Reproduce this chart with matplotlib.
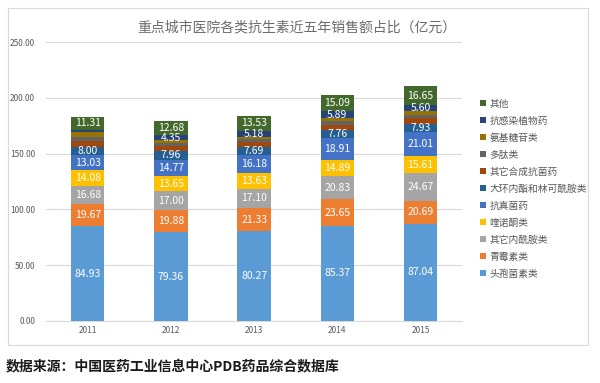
import matplotlib.pyplot as plt
from matplotlib.patches import Rectangle
import numpy as np

plt.rcParams['font.family'] = ['Noto Sans CJK SC', 'DejaVu Sans']

years = ['2011', '2012', '2013', '2014', '2015']

# bottom to top
series_names = ['头孢菌素类', '青霉素类', '其它内酰胺类', '喹诺酮类', '抗真菌药',
                '大环内酯和林可酰胺类', '其它合成抗菌药', '多肽类', '氨基糖苷类',
                '抗感染植物药', '其他']

toubao = [84.93, 79.36, 80.27, 85.37, 87.04]
qingmei = [19.67, 19.88, 21.33, 23.65, 20.69]
neixian = [16.68, 17.00, 17.10, 20.83, 24.67]
kuinuo = [14.08, 13.65, 13.63, 14.89, 15.61]
zhenjun = [13.03, 14.77, 16.18, 18.91, 21.01]
dahuan = [8.00, 7.96, 7.69, 7.76, 7.93]
hecheng = [5.0, 4.6, 4.0, 4.6, 4.6]
duotai = [3.6, 2.5, 2.5, 3.0, 3.2]
anji = [4.5, 2.5, 2.5, 3.0, 3.3]
zhiwu = [2.0, 4.35, 5.18, 5.89, 5.60]
qita = [11.31, 12.68, 13.53, 15.09, 16.65]

data = [toubao, qingmei, neixian, kuinuo, zhenjun, dahuan,
        hecheng, duotai, anji, zhiwu, qita]

colors = ['#5B9BD5', '#ED7D31', '#A5A5A5', '#FFC000', '#4472C4', '#255E91',
          '#9E480E', '#636363', '#997300', '#264478', '#43682B']

no_label = ['其它合成抗菌药', '多肽类', '氨基糖苷类']

fig = plt.figure(figsize=(6, 3.83), dpi=100)
fig.patches.append(Rectangle((8 / 600, 1 - 345 / 383), 580 / 600, 337 / 383,
                             transform=fig.transFigure, fill=False,
                             edgecolor='#D9D9D9', linewidth=0.8))
ax = fig.add_axes([0.077, 0.162, 0.693, 0.728])

x = np.arange(len(years))
bottom = np.zeros(len(years))
for name, vals, c in zip(series_names, data, colors):
    vals = np.array(vals)
    ax.bar(x, vals, 0.4, bottom=bottom, color=c, label=name, zorder=3)
    if name not in no_label:
        for xi, v, bt in zip(x, vals, bottom):
            if v >= 4:
                ax.text(xi, bt + v / 2, f'{v:.2f}', ha='center', va='center',
                        fontsize=7.5, color='white', zorder=4)
    bottom += vals

ax.set_ylim(0, 250)
ax.set_xlim(-0.5, 4.5)
ax.set_yticks(np.arange(0, 251, 50))
ax.set_yticklabels([f'{v:.2f}' for v in np.arange(0, 251, 50)])
ax.set_xticks(x)
ax.set_xticklabels(years)
ax.tick_params(axis='both', length=0, labelsize=6, colors='#595959')
ax.tick_params(axis='y', pad=8)
ax.grid(axis='y', color='#D9D9D9', linewidth=0.8, zorder=0)
for s in ax.spines.values():
    s.set_visible(False)
ax.spines['bottom'].set_visible(True)
ax.spines['bottom'].set_color('#D9D9D9')

fig.text(0.495, 1 - 27 / 383, '重点城市医院各类抗生素近五年销售额占比（亿元）',
         ha='center', va='center', fontsize=10, color='#6b6b6b')

handles, labels = ax.get_legend_handles_labels()
fig.legend(handles[::-1], labels[::-1], loc='upper left',
           bbox_to_anchor=(0.785, 1 - 90 / 383), frameon=False, fontsize=7,
           handlelength=0.6, handleheight=0.6, handletextpad=0.4,
           labelspacing=0.72, labelcolor='#595959')

fig.text(0.01, 1 - 366 / 383, '数据来源：中国医药工业信息中心PDB药品综合数据库',
         ha='left', va='center', fontsize=10, fontweight='bold', color='#1a1a1a')

fig.savefig('out.png', dpi=100)
